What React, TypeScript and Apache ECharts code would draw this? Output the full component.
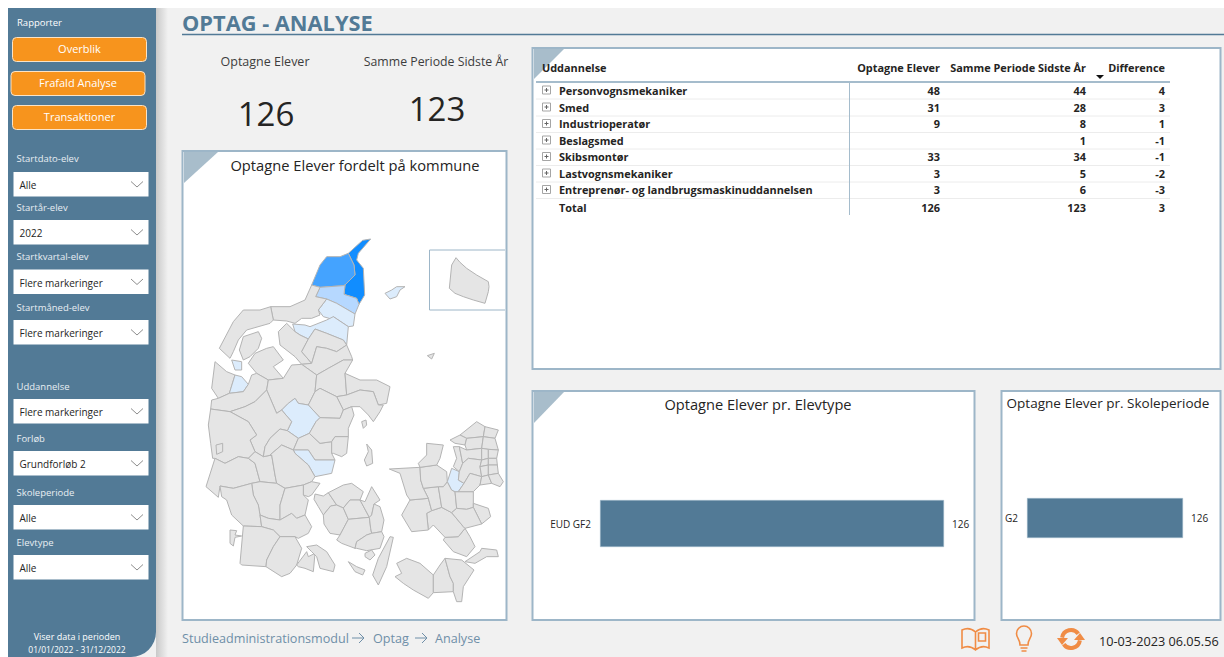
import React, { useEffect, useRef } from "react";
import * as echarts from "echarts";

const FONT = "'Open Sans', 'Noto Sans', sans-serif";
const BLUE = "#527a96";
const EDGE = "#9db6c8";
const TEXT = "#252423";

const pageTitle = "OPTAG - ANALYSE";
const kpiLabels = ["Optagne Elever", "Samme Periode Sidste År"];
const kpiValues = [126, 123];

const tableHeaders = ["Uddannelse", "Optagne Elever", "Samme Periode Sidste År", "Difference"];
const educations = [
  "Personvognsmekaniker", "Smed", "Industrioperatør", "Beslagsmed",
  "Skibsmontør", "Lastvognsmekaniker", "Entreprenør- og landbrugsmaskinuddannelsen", "Total",
];
const admitted: (number | null)[] = [48, 31, 9, null, 33, 3, 3, 126];
const lastYear = [44, 28, 8, 1, 34, 5, 6, 123];
const difference = [4, 3, 1, -1, -1, -2, -3, 3];

const typeCategories = ["EUD GF2"];
const typeValues = [126];
const periodCategories = ["G2"];
const periodValues = [126];

const reportButtons = ["Overblik", "Frafald Analyse", "Transaktioner"];
const filterLabels = ["Startdato-elev", "Startår-elev", "Startkvartal-elev", "Startmåned-elev", "Uddannelse", "Forløb", "Skoleperiode", "Elevtype"];
const filterValues = ["Alle", "2022", "Flere markeringer", "Flere markeringer", "Flere markeringer", "Grundforløb 2", "Alle", "Alle"];
const crumbs = ["Studieadministrationsmodul", "Optag", "Analyse"];
const stamp = "10-03-2023 06.05.56";

const kommuneNames = ["Frederikshavn", "Hjørring", "Brønderslev", "Aalborg", "Rebild", "Læsø", "Struer", "Lemvig N", "Silkeborg", "Horsens", "Roskilde"];
const kommuneValues = [48, 35, 14, 5, 4, 3, 3, 3, 5, 3, 3];

// Traced outlines: [name, ring, optional hole] in a 3x drawing space.
const SOUTH = 585;
const north: [string, string, string?][] = [
  ["Frederikshavn", "572,42 548,46 505,85 522,120 525,150 510,165 495,180 492,208 530,220 537,238 554,210 550,130 530,105 535,85"],
  ["Hjørring", "505,85 480,95 440,95 420,120 395,180 420,187 490,182 495,180 510,165 525,150 522,120"],
  ["Brønderslev", "420,187 407,215 440,222 470,235 525,267 537,238 530,220 492,208 495,180 490,182"],
  ["Aalborg", "440,222 415,255 430,275 465,285 460,275 505,305 520,303 525,267 470,235"],
  ["Rebild", "338,297 375,300 390,305 440,285 460,275 505,305 500,360 490,345 440,325 405,312 385,342 360,330 345,320"],
  ["Læsø", "615,205 635,195 650,185 675,185 660,195 650,215 630,222"],
  ["Anholt", "742,392 763,385 755,402"],
  ["Jammerbugt", "272,245 330,245 375,225 395,180 420,187 407,215 440,222 415,255 420,270 395,280 365,280 345,295 320,288 280,285"],
  ["Thisted", "272,245 240,255 190,255 160,290 118,370 150,400 160,380 175,345 200,315 270,295 280,285"],
  ["Morsø", "190,335 235,320 245,340 235,370 210,395 190,405 178,375"],
  ["Vesthimmerland", "320,295 345,320 360,330 385,342 365,380 395,415 365,418 345,395 300,360 295,320"],
  ["Mariagerfjord", "385,342 405,312 440,325 490,345 500,360 470,380 440,370 410,365 395,415 365,380"],
  ["Randers N", "410,365 440,370 470,380 500,360 515,395 518,405 490,405 445,430 410,450 365,418 395,415"],
  ["Skive", "260,370 280,365 310,405 280,425 310,460 265,465 230,445 205,415 225,385"],
  ["Lemvig", "105,410 140,440 165,450 148,505 115,520 95,490"],
  ["Lemvig N", "155,405 185,410 185,435 165,435"],
  ["Struer", "165,450 185,455 205,478 190,500 148,505"],
  ["Holstebro", "205,478 215,450 230,445 265,465 260,495 225,530 195,545 150,560 92,552 95,525 115,520 148,505 190,500"],
  ["Viborg", "265,465 310,460 335,420 365,418 410,450 405,500 385,540 355,535 345,520 325,535 305,555 290,565 260,495"],
  ["Randers", "410,450 445,430 490,405 518,405 495,445 500,510 470,515 420,490 405,500"],
  ["Norddjurs", "495,445 540,465 590,465 630,485 620,535 595,540 580,500 540,495 500,510"],
  ["Syddjurs", "500,510 540,495 580,500 595,540 610,540 600,560 580,590 565,570 540,545 515,545 490,555 470,515"],
  ["Favrskov", "420,490 470,515 490,555 480,580 420,578 385,540 405,500"],
  ["Silkeborg", "345,520 355,535 385,540 420,578 408,590 388,625 355,640 322,617 335,590 305,555 325,535"],
  ["Herning", "225,530 260,495 290,565 305,555 335,590 322,617 300,612 270,640 255,665 250,695 225,680 210,645 230,630 205,590 150,560 195,545"],
  ["Ringkøbing-Skjern", "92,552 150,560 205,590 230,630 210,645 225,680 205,700 175,695 135,715 105,700 98,700 92,655 85,600", "108,660 128,655 128,680 110,688"],
  ["Varde", "105,700 78,785 115,817 120,783 160,790 215,775 240,770 225,715 205,700 175,695 135,715"],
  ["Billund", "225,680 250,695 275,690 285,750 290,775 240,770 225,715 205,700"],
  ["Ikast-Brande", "250,695 255,665 270,640 300,612 322,617 355,640 340,675 305,660 270,690 275,690"],
  ["Skanderborg", "355,640 388,625 420,655 455,650 455,685 465,705 405,705 385,675 340,675"],
  ["Aarhus", "388,625 408,590 420,578 480,580 490,555 515,545 522,570 505,610 505,635 465,635 455,650 420,655"],
  ["Odder", "455,650 465,635 505,635 500,685 485,695 460,685 455,685"],
  ["Horsens", "340,675 385,675 405,705 465,705 455,745 405,755 385,720 345,685"],
  ["Hedensted", "270,690 305,660 340,675 345,685 385,720 405,755 395,770 370,780 315,790 290,775 285,750 275,690"],
];
const south: [string, string][] = [
  ["Fredericia", "370,195 395,185 420,190 395,225 385,230 370,225"],
  ["Vejen", "215,190 240,185 290,190 315,205 300,255 300,300 265,295 240,285 235,255 220,225"],
  ["Kolding", "315,205 370,195 370,225 385,240 375,285 350,295 335,280 300,300 300,255"],
  ["Esbjerg", "120,198 160,205 215,190 220,225 235,255 240,285 245,320 190,318 155,285 140,240 125,230"],
  ["Fanø", "150,330 170,332 165,345 185,348 165,352 160,378 150,370"],
  ["Haderslev", "240,285 265,295 300,300 335,280 350,295 375,285 395,320 385,340 355,355 345,350 300,350 280,330 245,320"],
  ["Tønder", "190,318 245,320 280,330 300,350 280,380 260,420 258,440 185,435 180,430"],
  ["Aabenraa", "300,350 345,350 365,385 350,435 330,460 305,470 258,440 260,420 280,380"],
  ["Sønderborg", "350,435 380,395 385,410 405,400 400,455 375,445 355,440"],
  ["Als", "380,380 410,375 440,395 465,435 460,455 420,445 410,410 395,395"],
  ["Middelfart", "405,222 430,228 445,218 470,255 452,258 430,285 415,260 402,238"],
  ["Nordfyn", "445,218 490,195 515,190 550,215 540,240 510,240 490,264 470,255"],
  ["Assens", "430,285 452,258 470,255 490,264 505,298 480,345 450,340 432,312"],
  ["Odense", "490,264 510,240 540,240 568,292 525,296 505,298"],
  ["Faaborg-Midtfyn", "505,298 525,296 568,292 572,325 575,340 560,345 530,365 525,385 485,370 470,360 480,345"],
  ["Kerteminde", "540,240 555,245 575,200 600,240 582,252 575,285 568,292"],
  ["Nyborg", "582,252 600,260 612,300 605,335 575,340 572,325 568,292 575,285"],
  ["Svendborg", "530,365 560,345 575,340 605,335 612,350 600,385 560,392 530,385 525,385"],
  ["Ærø", "505,425 530,440 555,450 548,465 525,455"],
  ["Langeland", "630,350 640,352 620,440 595,495 578,465 595,415"],
  ["Tåsinge", "555,400 575,390 585,405 570,420 555,410"],
  ["Samsø", "560,72 575,90 578,130 560,138 553,120 565,95"],
  ["Tunø", "545,5 558,0 560,15 550,25"],
  ["Lolland", "650,430 680,415 720,430 760,465 760,518 745,535 700,510 670,490 645,470 665,460"],
  ["Guldborgsund", "760,465 780,435 795,415 810,470 820,490 820,515 760,518"],
  ["Vordingborg", "795,415 845,420 882,450 850,500 845,545 830,545 820,515 820,490 810,470"],
  ["Møn", "855,425 900,395 905,385 950,390 955,410 920,410 885,430"],
  ["Næstved S", "790,360 795,352 835,350 855,325 870,350 885,380 860,410 820,395"],
  ["Næstved", "740,280 755,272 785,262 815,278 850,320 855,325 835,350 795,352 760,315 745,330"],
  ["Slagelse", "665,285 690,240 745,235 755,272 740,280 745,330 695,335"],
  ["Sorø", "730,205 775,200 785,262 755,272 745,235"],
  ["Ringsted", "775,200 790,200 802,185 815,210 825,215 830,265 815,278 785,262"],
  ["Køge", "825,215 835,215 880,215 880,262 860,268 830,265"],
  ["Stevns", "880,250 925,265 932,290 905,312 880,262"],
  ["Faxe", "815,278 830,265 860,268 880,262 905,312 855,325 850,320"],
  ["Kalundborg", "628,147 720,142 722,180 730,205 745,235 690,240 680,225 660,160"],
  ["Holbæk", "720,142 770,135 800,155 802,185 790,200 775,200 730,205 722,180"],
  ["Odsherred", "715,130 740,105 740,70 790,75 780,115 770,135 720,142"],
  ["Roskilde", "802,185 815,145 838,155 835,180 852,190 835,215 825,215 815,210"],
  ["Frederikssund", "820,80 838,80 848,130 838,155 820,140 830,115"],
  ["Gribskov", "840,45 890,5 915,20 910,50 860,55"],
  ["Helsingør", "915,20 955,30 945,55 910,50"],
  ["Halsnæs", "810,60 840,45 860,55 855,75 825,70"],
  ["Hillerød", "860,55 910,50 905,85 860,90 855,75"],
  ["Fredensborg", "910,50 945,55 955,90 925,88 905,85"],
  ["Allerød", "838,80 860,90 905,85 905,120 865,115 848,130"],
  ["Egedal", "848,130 865,115 905,120 900,140 905,170 870,160 852,190 835,180 838,155"],
  ["Lyngby", "905,85 925,88 925,115 905,120"],
  ["Rudersdal", "925,88 955,90 950,115 925,115"],
  ["Furesø", "905,120 925,115 925,135 900,140"],
  ["Gentofte", "925,115 950,115 952,135 925,135"],
  ["Ballerup", "900,140 925,135 925,165 905,170"],
  ["København", "925,135 952,135 955,160 925,165"],
  ["Greve", "852,190 870,160 905,170 900,195 880,215 835,215"],
  ["Ishøj", "905,170 925,165 935,190 900,195"],
  ["Amager", "925,165 955,160 970,185 960,200 935,190"],
];
const bornholm: [string, string] = ["Bornholm", "828,98 840,112 860,130 890,150 925,170 927,185 925,200 915,235 880,225 850,215 825,205 808,190 812,150 815,120"];

function ring(text: string, dy = 0) {
  return text.trim().split(" ").map((pair) => {
    const [u, v] = pair.split(",").map(Number);
    return [u, v + dy];
  });
}
function feature(name: string, rings: number[][][]) {
  return {
    type: "Feature",
    properties: { name },
    geometry: { type: "Polygon", coordinates: rings.map((r) => [...r, r[0]]) },
  };
}
const features = [
  ...north.map(([n, a, hole]) => feature(n, hole ? [ring(a), ring(hole)] : [ring(a)])),
  ...south.map(([n, a]) => feature(n, [ring(a, SOUTH)])),
  feature(bornholm[0], [ring(bornholm[1])]),
];

function buildGraphic() {
  const g: any[] = [];
  const T = (text: string, x: number, y: number, fontSize: number, fill: string, align = "left", fontWeight: any = 400, fontFamily = FONT) =>
    g.push({ type: "text", x, y, style: { text, fontSize, fill, align, verticalAlign: "middle", fontWeight, fontFamily } });
  const R = (x: number, y: number, width: number, height: number, style: any, r: any = 0) =>
    g.push({ type: "rect", shape: { x, y, width, height, r }, style });
  const Tri = (pts: number[][]) => g.push({ type: "polygon", shape: { points: pts }, style: { fill: "#a8bdcb" } });
  const L = (x1: number, y1: number, x2: number, y2: number, stroke: string, lineWidth: number) =>
    g.push({ type: "line", shape: { x1, y1, x2, y2 }, style: { stroke, lineWidth } });

  // page
  R(0, 0, 1224, 657, { fill: "#ffffff" });
  R(8, 8, 1216, 649, { fill: "#f1f1f1" });
  g.push({
    type: "rect",
    shape: { x: 156, y: 8, width: 12, height: 649 },
    style: { fill: new echarts.graphic.LinearGradient(0, 0, 1, 0, [{ offset: 0, color: "#c9c9c9" }, { offset: 1, color: "#f1f1f1" }]) },
  });
  R(8, 8, 148, 649, { fill: BLUE }, [0, 0, 25, 0]);

  // sidebar
  T("Rapporter", 17, 22, 9.5, "#ffffff");
  const btnY = [37, 71, 105];
  const btnX = [12, 10.5, 12];
  reportButtons.forEach((b, i) => {
    R(btnX[i] + 0.5, btnY[i] + 0.5, 134, 24, { fill: "#f7941d", stroke: "#fbe3c5", lineWidth: 1 }, 4);
    T(b, btnX[i] + 67.5, btnY[i] + 11, 11, "#ffffff", "center");
  });
  const labelY = [158, 207, 256, 307, 386, 438, 492, 542];
  const boxY = [172, 220, 269.5, 320, 399, 451, 505, 555];
  filterLabels.forEach((l, i) => {
    T(l, 16.5, labelY[i], 9.5, "#e8eef3");
    R(13.5, boxY[i], 135, 24.5, { fill: "#ffffff" });
    T(filterValues[i], 19.5, boxY[i] + 13, 10, TEXT);
    g.push({
      type: "polyline",
      shape: { points: [[131, boxY[i] + 9.5], [137, boxY[i] + 15], [143, boxY[i] + 9.5]] },
      style: { stroke: "#8d8d8d", lineWidth: 1, fill: "none" },
    });
  });
  T("Viser data i perioden", 77, 636, 9, "#ffffff", "center");
  T("01/01/2022 - 31/12/2022", 77, 649.5, 8.5, "#ffffff", "center");

  // header
  T(pageTitle, 182, 22, 21.8, BLUE, "left", 700);
  L(182, 34.5, 1224, 34.5, BLUE, 1.5);
  T(kpiLabels[0], 265, 61, 12.5, "#3d3d3d", "center");
  T(String(kpiValues[0]), 266, 113, 33, TEXT, "center");
  T(kpiLabels[1], 436, 61, 12.3, "#3d3d3d", "center");
  T(String(kpiValues[1]), 437, 108, 33, TEXT, "center");

  // panels
  const panel = (x: number, y: number, w: number, h: number) =>
    R(x, y, w, h, { fill: "#ffffff", stroke: EDGE, lineWidth: 2 });
  panel(182.5, 151, 324, 469);
  panel(532.5, 48, 688, 321);
  panel(532.5, 391, 442, 229);
  panel(1001.5, 391, 219, 229);
  Tri([[184, 152], [218, 152], [184, 183]]);
  Tri([[534, 49], [564, 49], [534, 79]]);
  Tri([[534, 392], [564, 392], [534, 423]]);
  T("Optagne Elever fordelt på kommune", 355, 165, 14.7, TEXT, "center");
  T("Optagne Elever pr. Elevtype", 758, 403.5, 14.6, TEXT, "center");
  T("Optagne Elever pr. Skoleperiode", 1108, 403, 13.5, TEXT, "center");

  // Bornholm inset frame
  g.push({
    type: "polyline",
    shape: { points: [[505, 250], [429.5, 250], [429.5, 310], [505, 310]] },
    style: { stroke: EDGE, lineWidth: 1, fill: "none" },
  });

  // table
  const colRight = [940, 1086, 1165];
  T(tableHeaders[0], 542, 67, 10.9, TEXT, "left", 700);
  colRight.forEach((x, i) => T(tableHeaders[i + 1], x, 67, 10.9, TEXT, "right", 700));
  g.push({ type: "polygon", shape: { points: [[1096, 75], [1104, 75], [1100, 79]] }, style: { fill: "#111111" } });
  const rowY = [90, 107, 123.5, 140, 156.5, 173, 189.5, 207];
  rowY.forEach((y, i) => {
    if (i < rowY.length - 1) L(536, y + 9, 1170, y + 9, "#ececec", 1);
    if (i < rowY.length - 1) {
      R(542.5, y - 4, 8, 8, { fill: "#ffffff", stroke: "#a5a5a5", lineWidth: 1 });
      L(544.5, y, 548.5, y, "#666666", 1);
      L(546.5, y - 2, 546.5, y + 2, "#666666", 1);
    }
    T(educations[i], 559, y, 10.9, TEXT, "left", 700);
    const vals = [admitted[i], lastYear[i], difference[i]];
    vals.forEach((v, c) => {
      if (v !== null) T(String(v), colRight[c], y, 10.9, TEXT, "right", 700);
    });
  });
  L(536, 82, 1170, 82, "#a5bccc", 2);
  L(849.5, 82, 849.5, 215, "#a5bccc", 1);

  // footer
  const crumbColor = "#6f8fa8";
  T(crumbs[0], 182, 638, 12.6, crumbColor);
  T(crumbs[1], 373, 638, 12.6, crumbColor);
  T(crumbs[2], 435, 638, 12.6, crumbColor);
  [[352, 364], [415, 427]].forEach(([a, b]) => {
    L(a, 638, b, 638, crumbColor, 1);
    g.push({ type: "polyline", shape: { points: [[b - 5, 633], [b, 638], [b - 5, 643]] }, style: { stroke: crumbColor, lineWidth: 1, fill: "none" } });
  });
  T(stamp, 1099, 641, 12.7, TEXT);
  const orange = "#f08c45";
  const line = { fill: "none", stroke: orange, lineWidth: 1.6 };
  g.push({ type: "dkBook", style: line });
  g.push({ type: "dkBulb", style: line });
  g.push({ type: "arc", shape: { cx: 1071, cy: 639, r: 9, startAngle: Math.PI * 1.05, endAngle: Math.PI * 1.8 }, style: { stroke: orange, lineWidth: 4, fill: "none" } });
  g.push({ type: "arc", shape: { cx: 1071, cy: 639, r: 9, startAngle: Math.PI * 0.05, endAngle: Math.PI * 0.8 }, style: { stroke: orange, lineWidth: 4, fill: "none" } });
  g.push({ type: "polygon", shape: { points: [[1074, 640], [1085, 640], [1080, 633]] }, style: { fill: orange } });
  g.push({ type: "polygon", shape: { points: [[1057, 638], [1068, 638], [1062, 645]] }, style: { fill: orange } });
  return g;
}

export default function App() {
  const ref = useRef<HTMLDivElement>(null);
  useEffect(() => {
    document.body.style.margin = "0";
    document.body.style.overflow = "hidden";
    echarts.registerMap("dk", { type: "FeatureCollection", features } as any);
    echarts.graphic.registerShape(
      "dkBook",
      echarts.graphic.extendPath("M975.5 632 C971 628 966 628 962 630 L962 648 C966 646 971 646 975.5 650 C980 646 985 646 989 648 L989 630 C985 628 980 628 975.5 632 Z M975.5 632 L975.5 650 M978.5 633 L985.5 633 L985.5 641 L978.5 641 Z", {}) as any
    );
    echarts.graphic.registerShape(
      "dkBulb",
      echarts.graphic.extendPath("M1020 645 C1020 639 1016.5 638 1016.5 633.5 A7.5 7.5 0 1 1 1031.5 633.5 C1031.5 638 1028 639 1028 645 Z M1020.5 648 L1027.5 648 M1021.5 651 L1026.5 651", {}) as any
    );
    const chart = echarts.init(ref.current!, null, { renderer: "svg" });
    let minU = Infinity, minV = Infinity, maxU = -Infinity, maxV = -Infinity;
    features.forEach((f) => f.geometry.coordinates[0].forEach(([u, v]: number[]) => {
      minU = Math.min(minU, u); maxU = Math.max(maxU, u);
      minV = Math.min(minV, v); maxV = Math.max(maxV, v);
    }));
    const barLabel = { show: true, position: "right", distance: 8, fontSize: 10, color: TEXT, fontFamily: FONT };
    const catAxis = { type: "category", axisLine: { show: false }, axisTick: { show: false }, axisLabel: { fontSize: 10, color: TEXT, margin: 9, fontFamily: FONT } };
    const valAxis = { type: "value", min: 0, max: 126, show: false, splitLine: { show: false } };
    chart.setOption({
      animation: false,
      tooltip: { show: false },
      graphic: { elements: buildGraphic() },
      visualMap: {
        show: false, type: "continuous", seriesIndex: 0, min: 1, max: 48,
        inRange: { color: ["#dcecfc", "#dcecfc", "#b3d7ff", "#9accff", "#78baff", "#46a4ff", "#2a98ff", "#118dff"] },
      },
      grid: [
        { left: 600, width: 344, top: 460, height: 127 },
        { left: 1027, width: 156, top: 455, height: 126 },
      ],
      xAxis: [{ ...valAxis, gridIndex: 0 }, { ...valAxis, gridIndex: 1 }],
      yAxis: [
        { ...catAxis, gridIndex: 0, data: typeCategories },
        { ...catAxis, gridIndex: 1, data: periodCategories },
      ],
      series: [
        {
          type: "map", map: "dk", silent: true, selectedMode: false,
          projection: { project: (p: number[]) => p, unproject: (p: number[]) => p },
          left: 180 + minU / 3, top: 225 + minV / 3,
          width: (maxU - minU) / 3, height: (maxV - minV) / 3,
          label: { show: false },
          itemStyle: { areaColor: "#e5e5e5", borderColor: "#b4b4b4", borderWidth: 1 },
          emphasis: { disabled: true },
          data: kommuneNames.map((name, i) => ({ name, value: kommuneValues[i] })),
        },
        {
          type: "bar", xAxisIndex: 0, yAxisIndex: 0, data: typeValues, barWidth: 47, silent: true,
          itemStyle: { color: BLUE, borderColor: "#a9c0d0", borderWidth: 0.5 }, label: barLabel,
        },
        {
          type: "bar", xAxisIndex: 1, yAxisIndex: 1, data: periodValues, barWidth: 40, silent: true,
          itemStyle: { color: BLUE, borderColor: "#a9c0d0", borderWidth: 0.5 }, label: barLabel,
        },
      ],
    });
    return () => chart.dispose();
  }, []);
  return <div ref={ref} style={{ position: "fixed", left: 0, top: 0, width: 1224, height: 657 }} />;
}
